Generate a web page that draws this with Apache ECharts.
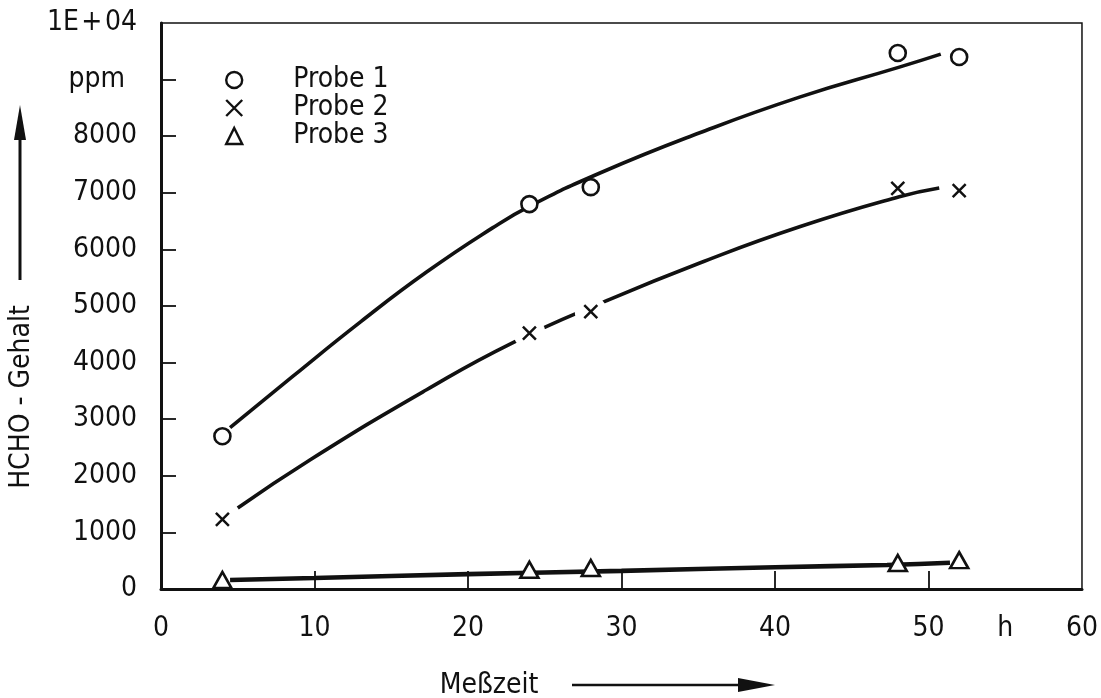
<!DOCTYPE html>
<html><head><meta charset="utf-8">
<script src="https://cdn.jsdelivr.net/npm/echarts@6/dist/echarts.min.js"></script>
<style>html,body{margin:0;padding:0;background:#fff}#c{width:1101px;height:698px}</style>
</head><body><div id="c"></div>
<script>
const FONT = '"DejaVu Sans Condensed","DejaVu Sans",sans-serif';
const INK = '#111111';
const FS = 28;

const seriesNames = ['Probe 1', 'Probe 2', 'Probe 3'];
const xLabelValues = [0, 10, 20, 30, 40, 50, 55, 60];
const xTickValues = [10, 20, 30, 40, 50];
const yTickValues = [1000, 2000, 3000, 4000, 5000, 6000, 7000, 8000, 9000];
const yLabelSpecial = { 10000: '1E\u200A+\u200A04', 9000: 'ppm' };
const xLabelSpecial = { 55: 'h' };

// measured points
const probe1 = [[4, 2700], [24, 6800], [28, 7100], [48, 9470], [52, 9400]];
const probe2 = [[4, 1230], [24, 4520], [28, 4900], [48, 7080], [52, 7040]];
const probe3 = [[4, 160], [24, 340], [28, 370], [48, 460], [52, 510]];

// fitted curves
const fit1 = [[4.5, 2850], [8.6, 3760], [13, 4720], [17.3, 5600], [21.6, 6380], [24, 6760], [28.6, 7350], [35.1, 8060], [41.6, 8690], [48.1, 9220], [50.8, 9450]];
const fit2 = [[5, 1430], [9.7, 2280], [17.3, 3520], [22.9, 4350], [29, 5090], [35.1, 5760], [41.6, 6400], [48.1, 6930], [50.7, 7085]];
const fit3 = [[4.5, 160], [10, 195], [20, 262], [30, 320], [40, 385], [47.3, 425], [51.4, 465]];

// crosses where the fitted curve is broken around the marker
const gapXs = [24, 28];

const chart = echarts.init(document.getElementById('c'), null, { renderer: 'canvas' });

const CROSS = 'path://M0,0L10,10M0,10L10,0';

const fitLine = (data, w) => ({
  type: 'line', data, smooth: 0.5, showSymbol: false, symbol: 'none',
  lineStyle: { color: INK, width: w }, z: 2, silent: true
});

chart.setOption({
  animation: false,
  backgroundColor: '#fff',
  textStyle: { fontFamily: FONT },
  grid: {
    left: 161, right: 19, top: 23, bottom: 109,
    show: true, borderColor: INK, borderWidth: 1.5, backgroundColor: '#fff'
  },
  xAxis: {
    type: 'value', min: 0, max: 60, interval: 10,
    axisLine: { show: true, onZero: false, lineStyle: { color: INK, width: 3 } },
    axisTick: { show: true, inside: true, length: 18, customValues: xTickValues, lineStyle: { color: INK, width: 1.8 } },
    axisLabel: {
      customValues: xLabelValues, margin: 26, color: INK, fontFamily: FONT, fontSize: FS,
      formatter: v => (xLabelSpecial[v] !== undefined ? xLabelSpecial[v] : String(v))
    },
    splitLine: { show: false }
  },
  yAxis: {
    type: 'value', min: 0, max: 10000, interval: 1000,
    axisLine: { show: true, onZero: false, lineStyle: { color: INK, width: 3 } },
    axisTick: { show: true, inside: true, length: 15, customValues: yTickValues, lineStyle: { color: INK, width: 1.8 } },
    axisLabel: {
      margin: 24, color: INK, fontFamily: FONT, fontSize: FS,
      formatter: v => {
        if (v === 9000) return '{u|ppm}';
        return yLabelSpecial[v] !== undefined ? yLabelSpecial[v] : String(v);
      },
      rich: { u: { fontFamily: FONT, fontSize: FS, color: INK, padding: [0, 12, 0, 0] } }
    },
    splitLine: { show: false }
  },
  legend: {
    data: seriesNames,
    orient: 'vertical', left: 220, top: 61,
    itemWidth: 16, itemHeight: 16, itemGap: 0,
    textStyle: { fontFamily: FONT, fontSize: FS, color: INK, lineHeight: 26, padding: [0, 0, 0, 46] },
    itemStyle: { borderWidth: 2.4, borderColor: INK, opacity: 1 },
    selectedMode: false
  },
  series: [
    fitLine(fit1, 3.6),
    fitLine(fit2, 3.6),
    fitLine(fit3, 4.6),
    {
      type: 'scatter', name: 'gap', data: probe2.filter(p => gapXs.includes(p[0])),
      symbol: 'circle', symbolSize: 32, itemStyle: { color: '#fff', borderWidth: 0, opacity: 1 }, z: 3, silent: true
    },
    {
      type: 'scatter', name: 'Probe 1', data: probe1, symbol: 'circle', symbolSize: 16,
      itemStyle: { color: '#fff', borderColor: INK, borderWidth: 2.6, opacity: 1 }, z: 5
    },
    {
      type: 'scatter', name: 'Probe 2', data: probe2, symbol: CROSS, symbolSize: 13,
      itemStyle: { color: 'rgba(0,0,0,0)', borderColor: INK, borderWidth: 2.5, opacity: 1 }, z: 5
    },
    {
      type: 'scatter', name: 'Probe 3', data: probe3, symbol: 'triangle', symbolSize: [18, 16],
      itemStyle: { color: '#fff', borderColor: INK, borderWidth: 2.6, opacity: 1 }, z: 5
    }
  ],
  graphic: [
    { type: 'text', x: 22, y: 397, rotation: Math.PI / 2, style: { text: 'HCHO - Gehalt', font: FS + 'px ' + FONT, fill: INK, align: 'center', verticalAlign: 'middle' } },
    { type: 'line', shape: { x1: 20, y1: 280, x2: 20, y2: 125 }, style: { stroke: INK, lineWidth: 3 } },
    { type: 'polygon', shape: { points: [[20, 105], [14, 140], [26, 140]] }, style: { fill: INK } },
    { type: 'text', x: 489, y: 686, style: { text: 'Meßzeit', font: FS + 'px ' + FONT, fill: INK, align: 'center', verticalAlign: 'middle' } },
    { type: 'line', shape: { x1: 572, y1: 685, x2: 750, y2: 685 }, style: { stroke: INK, lineWidth: 2.5 } },
    { type: 'polygon', shape: { points: [[775, 685], [738, 678], [738, 692]] }, style: { fill: INK } }
  ]
});
</script>
</body></html>
